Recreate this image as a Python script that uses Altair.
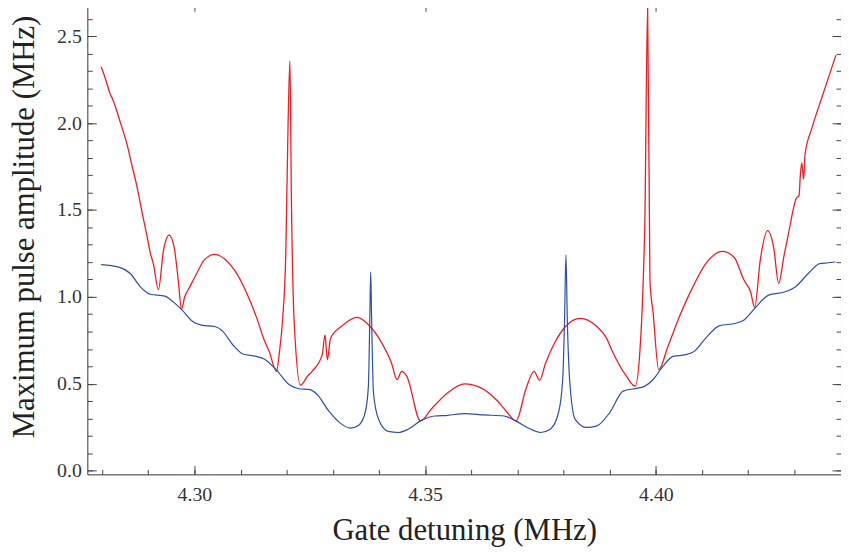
import altair as alt
import pandas as pd

# Red curve (gate detuning in MHz, max pulse amplitude in MHz)
red_x = [4.2798, 4.2807, 4.2817, 4.2822, 4.2840, 4.2854, 4.2865, 4.2876, 4.2886, 4.2897,
         4.2904, 4.2911, 4.2922, 4.2933, 4.2945, 4.2956, 4.2965, 4.2972, 4.2979, 4.2990,
         4.3005, 4.3022, 4.3044, 4.3065, 4.3087, 4.3112, 4.3134, 4.3151, 4.3162, 4.3178,
         4.3184, 4.3191, 4.3198, 4.3203, 4.3207, 4.3210, 4.3216, 4.3230, 4.3245, 4.3255,
         4.3277, 4.3283, 4.3288, 4.3295, 4.3320, 4.3352, 4.3381, 4.3406, 4.3427, 4.3439,
         4.3449, 4.3460, 4.3490, 4.3513, 4.3549, 4.3585, 4.3621, 4.3657, 4.3678, 4.3697,
         4.3718, 4.3736, 4.3748, 4.3761, 4.3782, 4.3804, 4.3836, 4.3872, 4.3893, 4.3904,
         4.3936, 4.3955, 4.3965, 4.3972, 4.3976, 4.3982, 4.3987, 4.3994, 4.4006, 4.4026,
         4.4051, 4.4080, 4.4108, 4.4144, 4.4169, 4.4191, 4.4205, 4.4214, 4.4226, 4.4242,
         4.4255, 4.4266, 4.4277, 4.4287, 4.4305, 4.4310, 4.4313, 4.4316, 4.4320, 4.4323,
         4.4338, 4.4359, 4.4390]
red_y = [2.324, 2.257, 2.171, 2.143, 2.000, 1.877, 1.753, 1.629, 1.495, 1.353,
         1.257, 1.191, 1.042, 1.267, 1.355, 1.286, 1.095, 0.928, 1.000, 1.057,
         1.134, 1.214, 1.244, 1.219, 1.153, 1.029, 0.886, 0.753, 0.686, 0.570,
         0.677, 0.867, 1.248, 2.000, 2.357, 1.600, 0.867, 0.491, 0.543, 0.571,
         0.667, 0.781, 0.638, 0.762, 0.833, 0.882, 0.829, 0.734, 0.619, 0.524,
         0.571, 0.543, 0.286, 0.353, 0.448, 0.499, 0.476, 0.400, 0.334, 0.286,
         0.467, 0.571, 0.520, 0.619, 0.743, 0.829, 0.876, 0.829, 0.762, 0.695,
         0.543, 0.486, 0.677, 1.057, 1.438, 2.673, 1.095, 0.905, 0.581, 0.714,
         0.886, 1.057, 1.191, 1.261, 1.229, 1.095, 1.029, 0.939, 1.210, 1.381,
         1.286, 1.077, 1.229, 1.362, 1.571, 1.581, 1.705, 1.771, 1.677, 1.819,
         1.971, 2.143, 2.391]

# Blue curve
blue_x = [4.2798, 4.2836, 4.2861, 4.2883, 4.2904, 4.2936, 4.2954, 4.2972, 4.2997, 4.3015,
          4.3044, 4.3062, 4.3083, 4.3105, 4.3134, 4.3151, 4.3177, 4.3205, 4.3227, 4.3248,
          4.3266, 4.3291, 4.3316, 4.3338, 4.3356, 4.3370, 4.3377, 4.3380, 4.3382, 4.3384,
          4.3388, 4.3399, 4.3420, 4.3442, 4.3463, 4.3490, 4.3521, 4.3549, 4.3585, 4.3628,
          4.3671, 4.3696, 4.3721, 4.3750, 4.3771, 4.3789, 4.3798, 4.3802, 4.3805, 4.3808,
          4.3813, 4.3825, 4.3850, 4.3872, 4.3900, 4.3929, 4.3958, 4.3976, 4.3994, 4.4015,
          4.4037, 4.4065, 4.4083, 4.4108, 4.4137, 4.4173, 4.4191, 4.4216, 4.4244, 4.4280,
          4.4302, 4.4330, 4.4355, 4.4373, 4.4389]
blue_y = [1.185, 1.171, 1.134, 1.057, 1.015, 1.004, 0.971, 0.928, 0.857, 0.837,
          0.829, 0.800, 0.724, 0.671, 0.657, 0.642, 0.581, 0.495, 0.471, 0.467,
          0.438, 0.343, 0.273, 0.244, 0.261, 0.334, 0.486, 0.867, 1.143, 0.867,
          0.448, 0.295, 0.225, 0.219, 0.238, 0.286, 0.314, 0.318, 0.328, 0.320,
          0.314, 0.286, 0.248, 0.219, 0.238, 0.334, 0.524, 0.867, 1.242, 0.867,
          0.524, 0.295, 0.248, 0.257, 0.334, 0.457, 0.473, 0.486, 0.524, 0.600,
          0.657, 0.667, 0.686, 0.762, 0.833, 0.848, 0.867, 0.939, 1.010, 1.029,
          1.057, 1.134, 1.191, 1.196, 1.202]

x_major = [4.30, 4.35, 4.40]
x_minor = [round(4.28 + 0.01 * i, 2) for i in range(17)]
y_major = [0.0, 0.5, 1.0, 1.5, 2.0, 2.5]
y_minor = [round(0.1 * i, 1) for i in range(27)]

x_domain = [4.2768, 4.4401]
y_domain = [-0.022, 2.695]

red_df = pd.DataFrame({"x": red_x, "y": red_y, "i": range(len(red_x))})
blue_df = pd.DataFrame({"x": blue_x, "y": blue_y, "i": range(len(blue_x))})

FONT = "Liberation Serif"
xs = alt.Scale(domain=x_domain, nice=False, zero=False)
ys = alt.Scale(domain=y_domain, nice=False, zero=False)

MAJ = 9
MIN = 5


def ax(orient, values, size, labels=False, title=None, fmt=None, **kw):
    args = dict(orient=orient, values=values, tickSize=size, offset=-size,
                domain=False, grid=False, tickColor="#444", tickWidth=1,
                labels=labels)
    if labels:
        args.update(labelFont=FONT, labelFontSize=20, labelColor="#333",
                    labelPadding=6, format=fmt)
    if title:
        args.update(title=title, titleFont=FONT, titleFontSize=31,
                    titleFontWeight="normal", titleColor="#222")
    else:
        args.update(title=None)
    args.update(kw)
    return alt.Axis(**args)


red = alt.Chart(red_df).mark_line(color="#ee1c24", strokeWidth=1.3,
                                  interpolate="monotone").encode(
    x=alt.X("x:Q", scale=xs, axis=ax("bottom", x_major, MAJ, True,
                                       "Gate detuning (MHz)", ".2f",
                                       labelPadding=10, titlePadding=12)),
    y=alt.Y("y:Q", scale=ys, axis=ax("left", y_major, MAJ, True,
                                       "Maximum pulse amplitude (MHz)", ".1f",
                                       labelPadding=6, titlePadding=16,
                                       titleY=226)),
    order="i:Q",
)

blue = alt.Chart(blue_df).mark_line(color="#2d4fa3", strokeWidth=1.2,
                                    interpolate="monotone").encode(
    x=alt.X("x:Q", scale=xs, axis=ax("bottom", x_minor, MIN)),
    y=alt.Y("y:Q", scale=ys, axis=ax("left", y_minor, MIN)),
    order="i:Q",
)

dummy1 = alt.Chart(blue_df).mark_line(opacity=0).encode(
    x=alt.X("x:Q", scale=xs, axis=ax("top", x_major, MAJ)),
    y=alt.Y("y:Q", scale=ys, axis=ax("right", y_major, MAJ)),
    order="i:Q",
)

dummy2 = alt.Chart(blue_df).mark_line(opacity=0).encode(
    x=alt.X("x:Q", scale=xs, axis=ax("top", x_minor, MIN)),
    y=alt.Y("y:Q", scale=ys, axis=ax("right", y_minor, MIN)),
    order="i:Q",
)

chart = alt.layer(red, blue, dummy1, dummy2).resolve_axis(
    x="independent", y="independent"
).properties(
    width=760, height=476,
    autosize=alt.AutoSizeParams(type="none"),
    padding={"top": -8, "left": 80, "right": 0, "bottom": 76},
    background="white",
).configure_view(stroke="#333", strokeWidth=1)

chart.save("out.html", embed_options={"renderer": "svg", "actions": False})
